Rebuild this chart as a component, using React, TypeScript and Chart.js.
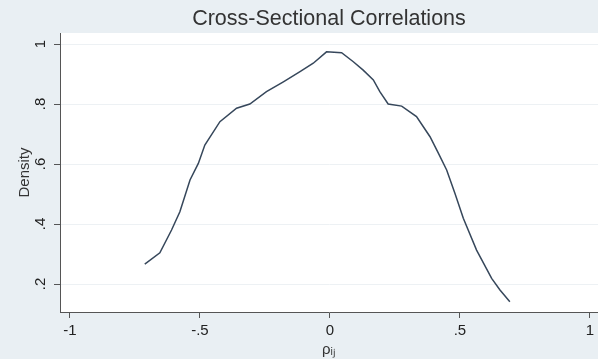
import { useEffect, useRef } from "react";
import { Chart, registerables } from "chart.js";

Chart.register(...registerables);

// ---- data ----
const correlationValues = [
  -0.712, -0.654, -0.609, -0.577, -0.538, -0.506, -0.481, -0.423, -0.359, -0.308,
  -0.244, -0.179, -0.115, -0.064, -0.013, 0.045, 0.09, 0.128, 0.167, 0.192,
  0.224, 0.276, 0.333, 0.385, 0.417, 0.449, 0.481, 0.513, 0.564, 0.622,
  0.654, 0.692,
];
const densityValues = [
  0.266, 0.304, 0.38, 0.441, 0.547, 0.602, 0.663, 0.741, 0.786, 0.8,
  0.841, 0.874, 0.908, 0.936, 0.974, 0.971, 0.941, 0.913, 0.88, 0.841,
  0.8, 0.793, 0.758, 0.691, 0.636, 0.58, 0.502, 0.419, 0.313, 0.219,
  0.18, 0.141,
];
const xTickValues = [-1, -0.5, 0, 0.5, 1];
const xTickLabels = ["-1", "-.5", "0", ".5", "1"];
const yTickValues = [0.2, 0.4, 0.6, 0.8, 1];
const yTickLabels = [".2", ".4", ".6", ".8", "1"];
const chartTitle = "Cross-Sectional Correlations";
const xAxisTitle = "ρᵢⱼ";
const yAxisTitle = "Density";

const FONT = "'Liberation Sans', Arial, Helvetica, sans-serif";

const plotBackground = {
  id: "plotBackground",
  beforeDraw(chart: any) {
    const { ctx, chartArea } = chart;
    if (!chartArea) return;
    ctx.save();
    ctx.fillStyle = "#ffffff";
    ctx.fillRect(chartArea.left, chartArea.top, chartArea.right - chartArea.left, chartArea.bottom - chartArea.top);
    ctx.restore();
  },
};

export default function App() {
  const canvasRef = useRef<HTMLCanvasElement | null>(null);

  useEffect(() => {
    if (!canvasRef.current) return;
    const points = correlationValues.map((x, i) => ({ x, y: densityValues[i] }));
    const chart = new Chart(canvasRef.current, {
      type: "line",
      data: {
        datasets: [
          {
            data: points,
            borderColor: "#36475b",
            borderWidth: 1.5,
            pointRadius: 0,
            tension: 0,
            fill: false,
          },
        ],
      },
      plugins: [plotBackground],
      options: {
        animation: false,
        responsive: true,
        maintainAspectRatio: false,
        layout: { padding: 0 },
        plugins: {
          legend: { display: false },
          tooltip: { enabled: false },
          title: {
            display: true,
            text: chartTitle,
            fullSize: false,
            color: "#333333",
            font: { family: FONT, size: 21.5, weight: "normal" as any, lineHeight: 1.2 },
            padding: { top: 6.5, bottom: 0.7 },
          },
        },
        scales: {
          x: {
            type: "linear",
            min: -1.038,
            max: 1.031,
            afterBuildTicks: (s: any) => {
              s.ticks = xTickValues.map((v) => ({ value: v }));
            },
            afterFit: (s: any) => {
              s.height = 47;
              s.paddingLeft = 0;
              s.paddingRight = 0;
            },
            grid: {
              drawOnChartArea: false,
              tickLength: 6,
              tickColor: "#555555",
              lineWidth: 1,
            },
            border: { color: "#555555", width: 1 },
            ticks: {
              padding: 4,
              color: "#222222",
              font: { family: FONT, size: 15 },
              maxRotation: 0,
              callback: (_v: any, i: number) => xTickLabels[i],
            },
            title: {
              display: true,
              text: xAxisTitle,
              color: "#333333",
              font: { family: FONT, size: 15 },
              padding: { top: 0, bottom: 0 },
            },
          },
          y: {
            type: "linear",
            min: 0.1067,
            max: 1.0367,
            afterBuildTicks: (s: any) => {
              s.ticks = yTickValues.map((v) => ({ value: v }));
            },
            afterFit: (s: any) => {
              s.width = 60;
            },
            grid: {
              color: "#edf1f4",
              tickColor: "#555555",
              tickLength: 6,
              lineWidth: 1,
            },
            border: { color: "#555555", width: 1 },
            ticks: {
              minRotation: 90,
              maxRotation: 90,
              crossAlign: "center",
              padding: 7,
              color: "#222222",
              font: { family: FONT, size: 15 },
              callback: (_v: any, i: number) => yTickLabels[i],
            },
            title: {
              display: true,
              text: yAxisTitle,
              color: "#333333",
              font: { family: FONT, size: 15 },
              padding: { top: 16, bottom: 0 },
            },
          },
        },
      } as any,
    });
    return () => chart.destroy();
  }, []);

  return (
    <div
      style={{
        position: "fixed",
        left: 0,
        top: 0,
        width: 598,
        height: 359,
        background: "#e9eff3",
      }}
    >
      <canvas ref={canvasRef} />
    </div>
  );
}
